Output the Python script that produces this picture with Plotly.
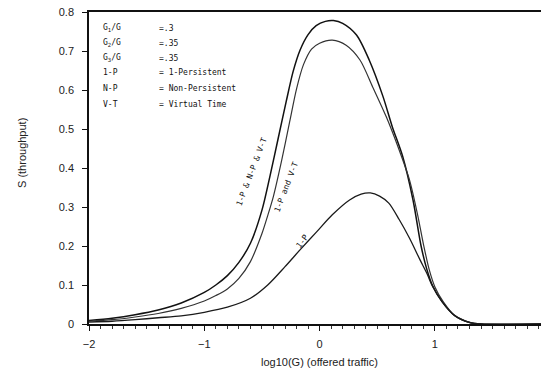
import plotly.graph_objects as go

# log10(G) offered traffic vs S throughput
x_all = [-2.0, -1.8, -1.6, -1.4, -1.2, -1.0, -0.9, -0.8, -0.7, -0.6, -0.5, -0.43, -0.36,
         -0.29, -0.23, -0.17, -0.1, -0.03, 0.05, 0.12, 0.2, 0.32, 0.43, 0.55, 0.63, 0.72, 0.81, 0.88,
         0.93, 0.98, 1.06, 1.17, 1.3, 1.4, 1.92]
s_all = [0.009, 0.015, 0.024, 0.036, 0.054, 0.081, 0.1, 0.124, 0.158, 0.207, 0.292, 0.38, 0.475,
         0.57, 0.647, 0.702, 0.742, 0.765, 0.776, 0.778, 0.771, 0.741, 0.677, 0.583, 0.506, 0.43, 0.318, 0.2,
         0.14, 0.098, 0.058, 0.022, 0.004, 0.0, 0.0]

x_pvt = [-2.0, -1.8, -1.6, -1.4, -1.2, -1.0, -0.9, -0.8, -0.7, -0.6, -0.5, -0.45, -0.4, -0.33,
         -0.26, -0.2, -0.14, -0.07, 0.0, 0.11, 0.23, 0.35, 0.46, 0.58, 0.69, 0.78, 0.85, 0.9,
         0.95, 1.0, 1.07, 1.17, 1.3, 1.4, 1.92]
s_pvt = [0.007, 0.011, 0.018, 0.027, 0.04, 0.059, 0.073, 0.09, 0.117, 0.16, 0.232, 0.278, 0.328, 0.418,
         0.518, 0.603, 0.665, 0.705, 0.72, 0.728, 0.715, 0.677, 0.608, 0.53, 0.446, 0.369, 0.28, 0.205,
         0.14, 0.095, 0.058, 0.022, 0.004, 0.0, 0.0]

x_1p = [-2.0, -1.8, -1.6, -1.4, -1.2, -1.0, -0.8, -0.6, -0.45, -0.3, -0.17, -0.03, 0.11,
        0.26, 0.36, 0.44, 0.52, 0.6, 0.69, 0.78, 0.87, 0.93, 0.98, 1.06, 1.17, 1.3, 1.4, 1.92]
s_1p = [0.005, 0.007, 0.011, 0.016, 0.021, 0.03, 0.043, 0.066, 0.1, 0.147, 0.19, 0.235, 0.28,
        0.318, 0.333, 0.336, 0.328, 0.31, 0.268, 0.22, 0.165, 0.13, 0.096, 0.058, 0.022, 0.004, 0.0, 0.0]

x_ticks = [-2, -1, 0, 1]
x_tick_text = ["\u22122", "\u22121", "0", "1"]
y_ticks = [0, 0.1, 0.2, 0.3, 0.4, 0.5, 0.6, 0.7, 0.8]
y_tick_text = ["0", "0.1", "0.2", "0.3", "0.4", "0.5", "0.6", "0.7", "0.8"]

legend_keys = ["G<sub>1</sub>/G", "G<sub>2</sub>/G", "G<sub>3</sub>/G", "1-P", "N-P", "V-T"]
legend_vals = ["=.3", "=.35", "=.35", "= 1-Persistent", "= Non-Persistent", "= Virtual Time"]

curve_labels = ["1-P & N-P & V-T", "1-P and V-T", "1-P"]

fig = go.Figure()
for xs, ys, w, c in [(x_all, s_all, 1.5, "#111111"), (x_pvt, s_pvt, 1.2, "#333333"), (x_1p, s_1p, 1.3, "#1a1a1a")]:
    fig.add_trace(go.Scatter(x=xs, y=ys, mode="lines",
                             line=dict(color=c, width=w, shape="spline", smoothing=0.8),
                             showlegend=False, hoverinfo="skip"))

W, H = 541, 382
L, R, T, B = 89, 0, 12, 58
pw, ph = W - L - R, H - T - B

fig.update_layout(
    width=W, height=H,
    margin=dict(l=L, r=R, t=T, b=B),
    paper_bgcolor="white", plot_bgcolor="white",
    font=dict(family="Liberation Sans, Arial, sans-serif", color="#222", size=11),
    xaxis=dict(range=[-2, 1.92], tickvals=x_ticks, ticktext=x_tick_text,
               showgrid=False, zeroline=False, showline=True, linecolor="#111", linewidth=1.5,
               mirror=True, ticks="outside", ticklen=5, tickcolor="#111", tickwidth=1,
               minor=dict(dtick=0.1, ticks="outside", ticklen=3, tickcolor="#333", showgrid=False),
               ticklabelstandoff=4, tickfont=dict(size=11)),
    yaxis=dict(range=[0, 0.8], tickvals=y_ticks, ticktext=y_tick_text,
               showgrid=False, zeroline=False, showline=True, linecolor="#111", linewidth=1.5,
               mirror=False, ticks="outside", ticklen=5, tickcolor="#111", tickwidth=1,
               ticklabelstandoff=6, tickfont=dict(size=11)),
)

mono = dict(family="DejaVu Sans Mono, monospace", size=8, color="#111")
ann = []
rows_y = [0.758, 0.720, 0.682, 0.645, 0.604, 0.562]
for k, v, yy in zip(legend_keys, legend_vals, rows_y):
    ann.append(dict(x=-1.9, y=yy, xref="x", yref="y", text=k, showarrow=False,
                    xanchor="left", yanchor="middle", font=mono))
    ann.append(dict(x=-1.41, y=yy, xref="x", yref="y", text=v, showarrow=False,
                    xanchor="left", yanchor="middle", font=mono))

ann.append(dict(x=-0.585, y=0.39, xref="x", yref="y", text=curve_labels[0], textangle=-69,
                showarrow=False, font=mono))
ann.append(dict(x=-0.29, y=0.35, xref="x", yref="y", text=curve_labels[1], textangle=-69,
                showarrow=False, font=mono))
ann.append(dict(x=-0.15, y=0.212, xref="x", yref="y", text=curve_labels[2], textangle=-53,
                showarrow=False, font=mono))

ann.append(dict(x=(22 - L) / pw, y=(H - B - 153) / ph, xref="paper", yref="paper",
                text="S (throughput)", textangle=-90, showarrow=False,
                font=dict(size=11, color="#222"), xanchor="center", yanchor="middle"))
ann.append(dict(x=(319 - L) / pw, y=(H - B - 362) / ph, xref="paper", yref="paper",
                text="log10(G) (offered traffic)", showarrow=False,
                font=dict(size=11, color="#222"), xanchor="center", yanchor="middle"))
fig.update_layout(annotations=ann)

fig.write_html("out.html")
